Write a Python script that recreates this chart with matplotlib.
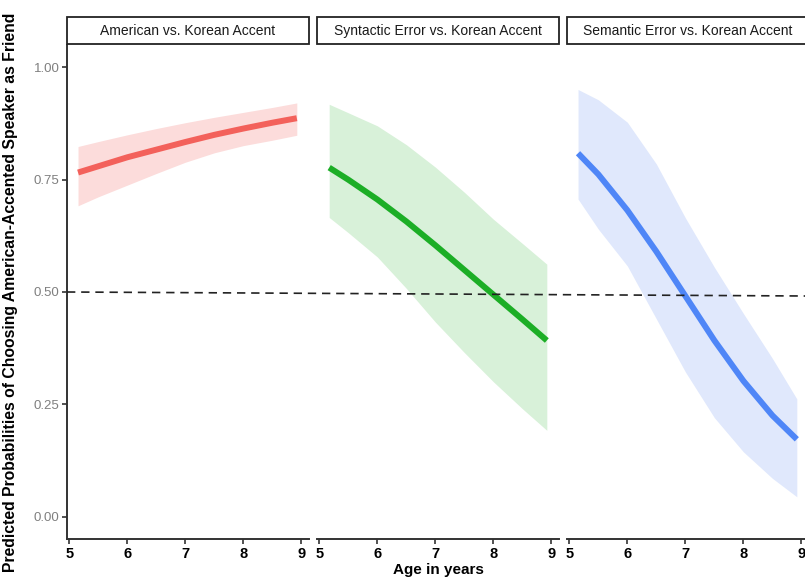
import numpy as np
import matplotlib.pyplot as plt
from matplotlib.lines import Line2D
from matplotlib.patches import Rectangle

# facet titles
panels = ["American vs. Korean Accent",
          "Syntactic Error vs. Korean Accent",
          "Semantic Error vs. Korean Accent"]

# ages
age_am = [5.15, 5.5, 6, 6.5, 7, 7.5, 8, 8.5, 8.92]
age_syn = [5.17, 5.5, 6, 6.5, 7, 7.5, 8, 8.5, 8.92]
age_sem = [5.15, 5.5, 6, 6.5, 7, 7.5, 8, 8.5, 8.92]

# predicted probabilities and confidence band
fit_am = [0.766, 0.780, 0.800, 0.817, 0.834, 0.850, 0.864, 0.877, 0.887]
lo_am = [0.692, 0.712, 0.738, 0.764, 0.789, 0.810, 0.826, 0.838, 0.849]
hi_am = [0.824, 0.835, 0.850, 0.864, 0.877, 0.889, 0.900, 0.911, 0.921]

fit_syn = [0.777, 0.750, 0.706, 0.657, 0.604, 0.549, 0.494, 0.439, 0.392]
lo_syn = [0.666, 0.632, 0.578, 0.508, 0.433, 0.365, 0.300, 0.240, 0.192]
hi_syn = [0.918, 0.899, 0.870, 0.828, 0.778, 0.722, 0.662, 0.608, 0.562]

fit_sem = [0.809, 0.762, 0.682, 0.590, 0.491, 0.392, 0.302, 0.225, 0.172]
lo_sem = [0.707, 0.640, 0.558, 0.440, 0.322, 0.220, 0.144, 0.085, 0.044]
hi_sem = [0.951, 0.928, 0.878, 0.785, 0.665, 0.555, 0.452, 0.352, 0.262]

ages = [age_am, age_syn, age_sem]
fits = [fit_am, fit_syn, fit_sem]
lows = [lo_am, lo_syn, lo_sem]
highs = [hi_am, hi_syn, hi_sem]
line_cols = ['#f3615b', '#1cae26', '#4f86f7']
fill_cols = ['#fcdcdb', '#d8f1d9', '#e0e8fc']

xticks = [5, 6, 7, 8, 9]
yticks = [0.0, 0.25, 0.5, 0.75, 1.0]
ref_y = 0.5

W, H = 805, 584
fig = plt.figure(figsize=(W/100, H/100), dpi=100)

axes = []
for i in range(3):
    left = 67 + 250*i
    ax = fig.add_axes([left/W, 45/H, 242/W, 494/H])
    ax.fill_between(ages[i], lows[i], highs[i], color=fill_cols[i], lw=0)
    ax.plot(ages[i], fits[i], color=line_cols[i], lw=4.3, solid_capstyle='butt',
            solid_joinstyle='round')
    ax.set_xlim(4.96, 9.13)
    ax.set_ylim(-0.05, 1.05)
    ax.set_xticks(xticks)
    ax.set_xticklabels([str(t) for t in xticks], fontfamily='Liberation Sans',
                       fontweight='bold', fontsize=10.5, color='black')
    for s in ['top', 'right']:
        ax.spines[s].set_visible(False)
    ax.spines['bottom'].set_linewidth(1.4)
    ax.spines['bottom'].set_color('#333333')
    ax.tick_params(axis='x', length=3.5, width=1.2, color='#333333', pad=2)
    if i == 0:
        ax.spines['left'].set_linewidth(1.4)
        ax.spines['left'].set_color('#333333')
        ax.set_yticks(yticks)
        ax.set_yticklabels(['%.2f' % t for t in yticks], fontfamily='Liberation Sans',
                           fontsize=9.5, color='#7f7f7f')
        ax.tick_params(axis='y', length=3.5, width=1.2, color='#333333', pad=2)
    else:
        ax.spines['left'].set_visible(False)
        ax.set_yticks([])
    ax.patch.set_alpha(0)

    # strip on top
    fig.patches.append(Rectangle((left/W, (H-44)/H), 242/W, 27/H,
                                 transform=fig.transFigure, facecolor='white',
                                 edgecolor='#222222', lw=1.3))
    fig.text((left+121)/W, (H-31)/H, panels[i], ha='center', va='center',
             fontfamily='Liberation Sans', fontsize=10, color='#1a1a1a')
    axes.append(ax)

# dashed reference line running across all panels
x0, y0 = fig.transFigure.inverted().transform(axes[0].transData.transform((4.96, ref_y)))
y1 = y0 - 4/H
fig.lines.append(Line2D([x0, 1.0], [y0, y1], transform=fig.transFigure,
                        color='#222222', lw=1.2, ls=(0, (5, 3.5))))

fig.text(438/W, 7/H, "Age in years", ha='center', va='bottom',
         fontfamily='Liberation Sans', fontweight='bold', fontsize=11)
fig.text(11/W, 0.5,
         "Predicted Probabilities of Choosing American-Accented Speaker as Friend",
         rotation=90, ha='center', va='center',
         fontfamily='Liberation Sans', fontweight='bold', fontsize=11.3)

fig.savefig('out.png', dpi=100, facecolor='white')
